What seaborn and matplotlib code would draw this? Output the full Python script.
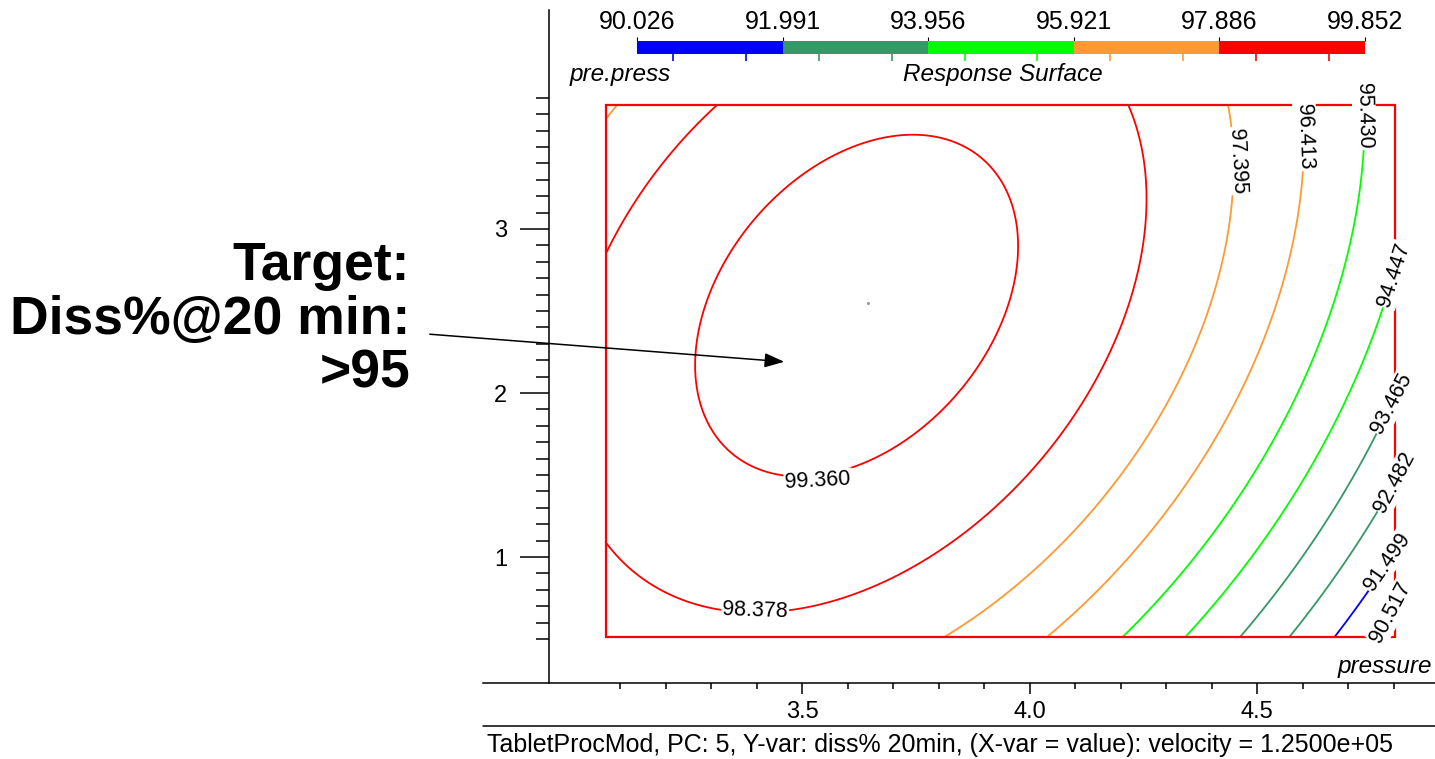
import numpy as np
import matplotlib
matplotlib.use("Agg")
import matplotlib.pyplot as plt
import seaborn as sns
from matplotlib.patches import Rectangle
from matplotlib.lines import Line2D
from matplotlib.transforms import IdentityTransform
import matplotlib.ticker as mticker

# ---------------- data ----------------
pressure_range = [3.068, 4.803]          # x extent of the response surface
prepress_range = [0.512, 3.756]          # y extent of the response surface
center_pressure = 3.641                  # reference point of the fitted model
center_prepress = 2.555
model_intercept = 99.80                  # quadratic response-surface model
model_u = -0.153                         # z = b0 + bu*u + buu*u^2 + buv*u*v + bvv*v^2
model_uu = -3.99
model_uv = 0.947
model_vv = -0.463
band_bounds = [90.026, 91.991, 93.956, 95.921, 97.886, 99.852]
band_colors = ["#0000ff", "#339966", "#00ff00", "#ff9933", "#ff0000"]
contour_levels = [90.517, 91.499, 92.482, 93.465, 94.447,
                  95.430, 96.413, 97.395, 98.378, 99.360]
x_major = [3.5, 4.0, 4.5]
x_minor = [3.1, 3.2, 3.3, 3.4, 3.6, 3.7, 3.8, 3.9, 4.1, 4.2, 4.3, 4.4, 4.6, 4.7, 4.8]
y_major = [1, 2, 3]
y_minor = [0.5, 0.6, 0.7, 0.8, 0.9, 1.1, 1.2, 1.3, 1.4, 1.5, 1.6, 1.7, 1.8, 1.9,
           2.1, 2.2, 2.3, 2.4, 2.5, 2.6, 2.7, 2.8, 2.9, 3.1, 3.2, 3.3, 3.4, 3.5,
           3.6, 3.7, 3.8]
footnote = "TabletProcMod, PC: 5, Y-var: diss% 20min, (X-var = value): velocity = 1.2500e+05"

# ---------------- style ----------------
sns.set_theme(style="white")
plt.rcParams["font.family"] = ["Liberation Sans", "DejaVu Sans"]
plt.rcParams["text.color"] = "black"
plt.rcParams["axes.labelcolor"] = "black"
plt.rcParams["xtick.color"] = "black"
plt.rcParams["ytick.color"] = "black"

W, H = 1435, 759
fig = plt.figure(figsize=(W / 100, H / 100), dpi=100)
fig.patch.set_facecolor("white")


def fx(px):
    return px / W


def fy(py):
    return (H - py) / H


def disp(px, py):
    return px, H - py


# main axes
ax = fig.add_axes([fx(483), fy(683), fx(1435) - fx(483), fy(10) - fy(683)])
ax.set_facecolor("none")
ax.set_xlim(2.798, 4.8905)
ax.set_ylim(0.232, 4.335)

# response surface grid
xs = np.linspace(pressure_range[0], pressure_range[1], 300)
ys = np.linspace(prepress_range[0], prepress_range[1], 300)
X, Y = np.meshgrid(xs, ys)
U = X - center_pressure
V = Y - center_prepress
Z = model_intercept + model_u * U + model_uu * U ** 2 + model_uv * U * V + model_vv * V ** 2

level_colors = []
for lv in contour_levels:
    for i in range(len(band_colors)):
        if band_bounds[i] <= lv < band_bounds[i + 1]:
            level_colors.append(band_colors[i])
            break

ax.contour(X, Y, Z, levels=contour_levels, colors=level_colors, linewidths=1.3, zorder=2)

# red frame of the surface
ax.add_patch(Rectangle((pressure_range[0], prepress_range[0]),
                       pressure_range[1] - pressure_range[0],
                       prepress_range[1] - prepress_range[0],
                       fill=False, edgecolor="#ff0000", linewidth=1.6, zorder=3))
ax.plot([3.645], [2.549], marker="o", ms=1.2, color="#999999", zorder=3)

# contour labels (pixel placement, rotation)
label_pos = {
    99.360: (818, 481, 3),
    98.378: (755, 611, -2),
    97.395: (1237, 161, -87),
    96.413: (1305, 137, -88),
    95.430: (1364, 116, -89),
    94.447: (1394, 275, 72),
    93.465: (1392, 403, 62),
    92.482: (1395, 482, 62),
    91.499: (1387, 562, 55),
    90.517: (1391, 612, 62),
}
for lv in contour_levels:
    px, py, rot = label_pos[lv]
    ax.text(*disp(px, py), f"{lv:.3f}", transform=IdentityTransform(),
            ha="center", va="center", rotation=rot, rotation_mode="anchor",
            fontsize=15.5, color="black", zorder=5,
            bbox=dict(facecolor="white", edgecolor="none", pad=1.0))

# spines and ticks
for s in ["top", "right"]:
    ax.spines[s].set_visible(False)
ax.spines["left"].set_position(("data", 2.943))
for s in ["left", "bottom"]:
    ax.spines[s].set_color("black")
    ax.spines[s].set_linewidth(1.1)

ax.xaxis.set_major_locator(mticker.FixedLocator(x_major))
ax.xaxis.set_minor_locator(mticker.FixedLocator(x_minor))
ax.yaxis.set_major_locator(mticker.FixedLocator(y_major))
ax.yaxis.set_minor_locator(mticker.FixedLocator(y_minor))
ax.set_xticklabels([f"{v:.1f}" for v in x_major])
ax.set_yticklabels([f"{v:d}" for v in y_major])
ax.tick_params(axis="x", which="major", direction="out", length=7.7, width=1.1,
               pad=5, labelsize=17, colors="black", bottom=True)
ax.tick_params(axis="x", which="minor", direction="out", length=4.5, width=1.1, bottom=True)
ax.tick_params(axis="y", which="major", direction="out", length=21, width=1.1,
               pad=9, labelsize=17, colors="black", left=True)
ax.tick_params(axis="y", which="minor", direction="out", length=9.5, width=1.1, left=True)
ax.grid(False)

# axis names
fig.text(fx(1432), fy(667), "pressure", ha="right", va="center", fontsize=17.5, style="italic")
fig.text(fx(570), fy(75), "pre.press", ha="left", va="center", fontsize=17.5, style="italic")
fig.text(fx(1003), fy(75), "Response Surface", ha="center", va="center", fontsize=17.5, style="italic")

# colour bar
cax = fig.add_axes([fx(637), fy(54), fx(1365) - fx(637), fy(41) - fy(54)])
for i, c in enumerate(band_colors):
    cax.axvspan(band_bounds[i], band_bounds[i + 1], color=c, lw=0)
cax.set_xlim(band_bounds[0], band_bounds[-1])
cax.set_ylim(0, 1)
for s in cax.spines.values():
    s.set_visible(False)
cax.set_yticks([])
cax.xaxis.set_ticks_position("top")
cax.set_xticks(band_bounds)
cax.set_xticklabels([f"{b:.3f}" for b in band_bounds])
cax.tick_params(axis="x", length=3, width=0.8, pad=2, labelsize=18, colors="black", top=True)
cax.vlines(contour_levels, -0.55, 0, colors=level_colors, lw=1.2, clip_on=False,
           transform=cax.get_xaxis_transform())

# separator and footnote
fig.add_artist(Line2D([fx(483), fx(1435)], [fy(725.7), fy(725.7)], color="black", lw=1.1))
fig.text(fx(487), fy(745), footnote, ha="left", va="center", fontsize=18)

# target annotation
fig.text(fx(410), fy(320), "Target:\nDiss%@20 min:\n>95", ha="right", va="center",
         multialignment="right", fontsize=38.5, fontweight="bold", linespacing=1.1)
ax.annotate("", xy=disp(787, 362), xycoords=IdentityTransform(),
            xytext=disp(427, 334), textcoords=IdentityTransform(),
            arrowprops=dict(arrowstyle="-|>,head_length=0.6,head_width=0.22",
                            color="black", lw=1.1, mutation_scale=20),
            annotation_clip=False)

fig.savefig("out.png", dpi=100)
